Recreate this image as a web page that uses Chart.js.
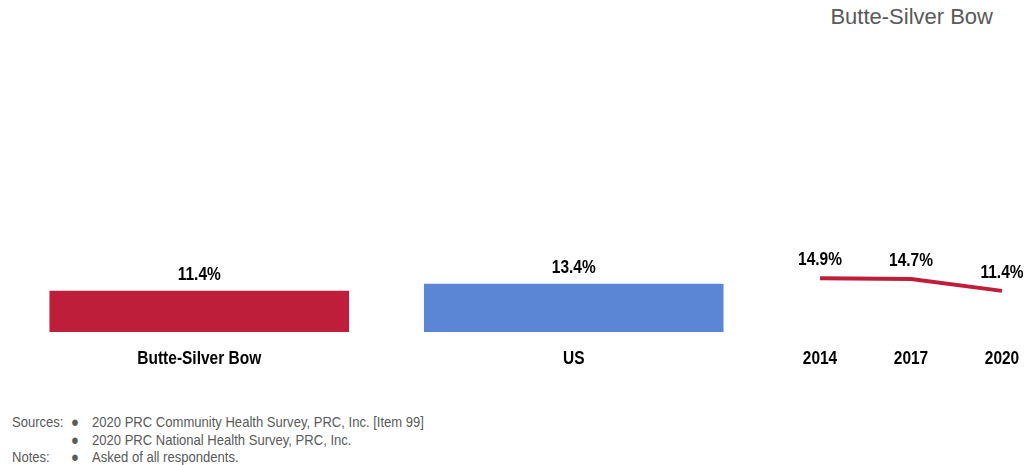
<!DOCTYPE html>
<html>
<head>
<meta charset="utf-8">
<script src="https://cdn.jsdelivr.net/npm/chart.js@4.4.1/dist/chart.umd.min.js"></script>
<style>
body { margin: 0; width: 1027px; height: 465px; background: #fff; position: relative; overflow: hidden; }
#title { position: absolute; top: 4px; right: 34px; font: 22px "Liberation Sans", Arial, sans-serif; color: #595959; }
#barCanvas { position: absolute; left: 0; top: 0; }
#lineCanvas { position: absolute; left: 770px; top: 0; }
.note { position: absolute; font: 15px "Liberation Sans", Arial, sans-serif; color: #595959; line-height: 18px; white-space: nowrap; transform: scaleX(0.87); transform-origin: 0 0; }
</style>
</head>
<body>
<div id="title">Butte-Silver Bow</div>
<canvas id="barCanvas" width="770" height="380"></canvas>
<canvas id="lineCanvas" width="257" height="380"></canvas>

<div class="note" style="left:12px; top:413px;">Sources:</div>
<div class="note" style="left:71px; top:413px;">●</div>
<div class="note" style="left:92px; top:413px;">2020 PRC Community Health Survey, PRC, Inc. [Item 99]</div>
<div class="note" style="left:71px; top:431px;">●</div>
<div class="note" style="left:92px; top:431px;">2020 PRC National Health Survey, PRC, Inc.</div>
<div class="note" style="left:12px; top:448px;">Notes:</div>
<div class="note" style="left:71px; top:448px;">●</div>
<div class="note" style="left:92px; top:448px;">Asked of all respondents.</div>

<script>
const areas = ['Butte-Silver Bow', 'US'];
const areaValues = [11.4, 13.4];
const areaColors = ['#BE1E3A', '#5B86D6'];

const years = ['2014', '2017', '2020'];
const trendValues = [14.9, 14.7, 11.4];

// no narrow font installed, so bold text is squeezed horizontally
const labelFont = 'bold 18px "Liberation Sans", Arial, sans-serif';
const squeeze = 0.86;

function narrowText(ctx, text, x, y) {
    ctx.save();
    ctx.translate(x, y);
    ctx.scale(squeeze, 1);
    ctx.fillText(text, 0, 0);
    ctx.restore();
}

// value labels above each bar / point, category labels under the axis
const textLabels = {
    id: 'textLabels',
    afterDatasetsDraw(chart, args, opts) {
        const ctx = chart.ctx;
        const meta = chart.getDatasetMeta(0);
        const data = chart.data.datasets[0].data;
        const xs = chart.scales.x;
        ctx.save();
        ctx.font = labelFont;
        ctx.fillStyle = '#000';
        ctx.textAlign = 'center';
        ctx.textBaseline = 'alphabetic';
        meta.data.forEach((el, i) => {
            narrowText(ctx, data[i].toFixed(1) + '%', el.x, el.y - opts.gap);
        });
        chart.data.labels.forEach((lab, i) => {
            narrowText(ctx, lab, xs.getPixelForValue(i), chart.chartArea.bottom + 32);
        });
        ctx.restore();
    }
};

function xAxis() {
    return {
        grid: { display: false },
        border: { display: false },
        ticks: { display: false },
        afterFit(axis) { axis.height = 48; }
    };
}

const yAxis = { display: false, min: 0, max: 92 };

new Chart(document.getElementById('barCanvas'), {
    type: 'bar',
    data: {
        labels: areas,
        datasets: [{
            data: areaValues,
            backgroundColor: areaColors,
            barPercentage: 1,
            categoryPercentage: 0.8
        }]
    },
    options: {
        responsive: false,
        animation: false,
        layout: { padding: { left: 12, right: 9, top: 0, bottom: 0 } },
        plugins: { legend: { display: false }, tooltip: { enabled: false }, textLabels: { gap: 11 } },
        scales: { x: xAxis(), y: yAxis }
    },
    plugins: [textLabels]
});

new Chart(document.getElementById('lineCanvas'), {
    type: 'line',
    data: {
        labels: years,
        datasets: [{
            data: trendValues,
            borderColor: '#BE1E3A',
            borderWidth: 4,
            pointRadius: 0,
            tension: 0,
            fill: false
        }]
    },
    options: {
        responsive: false,
        animation: false,
        layout: { padding: { left: 50, right: 25, top: 0, bottom: 0 } },
        plugins: { legend: { display: false }, tooltip: { enabled: false }, textLabels: { gap: 13 } },
        scales: { x: Object.assign(xAxis(), { offset: false }), y: yAxis }
    },
    plugins: [textLabels]
});
</script>
</body>
</html>
